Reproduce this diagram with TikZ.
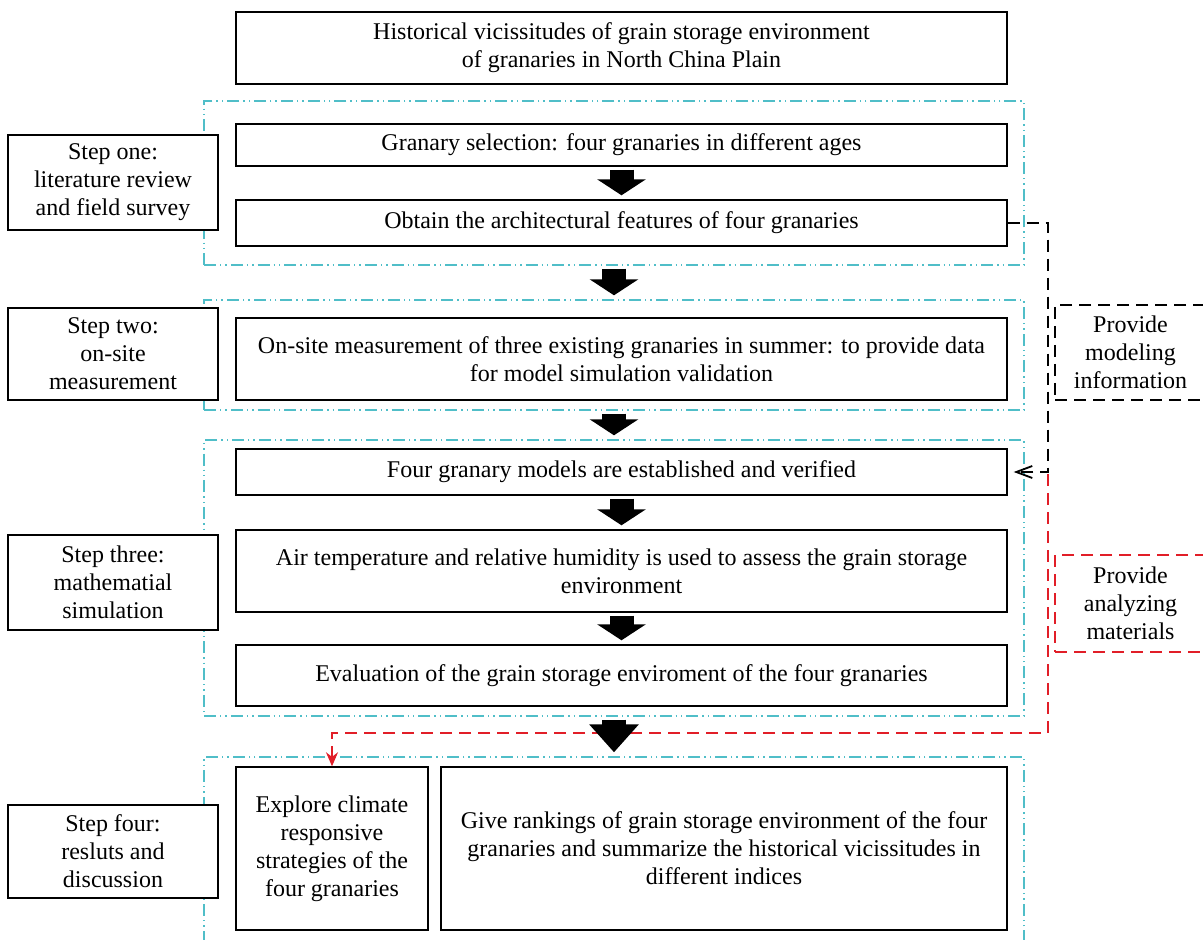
\documentclass[tikz,border=0pt]{standalone}
\usepackage{fontspec}
\setmainfont{Liberation Serif}
\usetikzlibrary{arrows.meta}

\definecolor{framecyan}{RGB}{80,190,200}
\definecolor{linkred}{RGB}{225,30,40}

\tikzset{
  box/.style={draw, line width=0.7pt, align=center, inner sep=0pt, minimum width=385.5pt},
  stepbox/.style={draw, fill=white, line width=0.7pt, align=center, inner sep=0pt, minimum width=105pt},
  stage/.style={draw=framecyan, line width=0.7pt, inner sep=0pt, minimum width=410pt,
    dash pattern=on 6pt off 2pt on 0.7pt off 2pt on 0.7pt off 2pt},
  bigarrow/.style={-{Triangle[width=24pt,length=8pt]}, line width=12pt, shorten <=1.5pt, shorten >=2pt},
  noteline/.style={line width=0.9pt, dash pattern=on 6pt off 3.5pt},
  note/.style={draw, noteline, align=center, inner sep=0pt, minimum width=75.5pt},
}

\begin{document}
\begin{tikzpicture}[x=0.5pt, y=-0.5pt, font=\fontsize{12}{14}\selectfont]
    \useasboundingbox (0,0) rectangle (1203,940);

    % stage frames
    \node[stage, minimum height=82pt] (stage1) at (614,183) {};
    \node[stage, minimum height=55pt] (stage2) at (614,355) {};
    \node[stage, minimum height=138pt] (stage3) at (614,578) {};
    \node[stage, minimum height=111.5pt] (stage4) at (614,868.5) {};

    % main boxes
    \node[box, minimum height=36pt] (title) at (621.5,48)
        {Historical vicissitudes of grain storage environment\\of granaries in North China Plain};
    \node[box, minimum height=21pt] (select) at (621.5,145)
        {Granary selection: four granaries in different ages};
    \node[box, minimum height=23pt] (obtain) at (621.5,223)
        {Obtain the architectural features of four granaries};
    \node[box, minimum height=41pt] (measure) at (621.5,359)
        {On-site measurement of three existing granaries in summer: to provide data\\for model simulation validation};
    \node[box, minimum height=23pt] (models) at (621.5,472)
        {Four granary models are established and verified};
    \node[box, minimum height=41pt] (assess) at (621.5,571)
        {Air temperature and relative humidity is used to assess the grain storage\\environment};
    \node[box, minimum height=30.5pt] (evaluate) at (621.5,675.5)
        {Evaluation of the grain storage enviroment of the four granaries};
    \node[box, minimum width=96pt, minimum height=81.5pt] (explore) at (332,848.5)
        {Explore climate\\responsive\\strategies of the\\four granaries};
    \node[box, minimum width=283pt, minimum height=81.5pt] (rank) at (724,848.5)
        {Give rankings of grain storage environment of the four\\granaries and summarize the historical vicissitudes in\\different indices};

    % step labels
    \node[stepbox, minimum height=47.5pt] (step1) at (113,182.5)
        {Step one:\\literature review\\and field survey};
    \node[stepbox, minimum height=46pt] (step2) at (113,354)
        {Step two:\\on-site\\measurement};
    \node[stepbox, minimum height=47.5pt] (step3) at (113,582.5)
        {Step three:\\mathematial\\simulation};
    \node[stepbox, minimum height=46.5pt] (step4) at (113,851.5)
        {Step four:\\resluts and\\discussion};

    % notes on the right
    \node[note, minimum height=47.5pt] (modelnote) at (1130.5,352.5)
        {Provide\\modeling\\information};
    \node[note, draw=linkred, minimum height=48.5pt] (analysenote) at (1130.5,603.5)
        {Provide\\analyzing\\materials};

    % dashed links
    \coordinate (rbus) at (1048,0);
    \coordinate (split) at (1048,474);
    \coordinate (redturn) at (1048,733);
    \draw[noteline, -{Straight Barb[length=8pt,width=6pt]}, shorten >=3pt]
        (obtain.east) -- (obtain.east -| rbus) |- (models.east);
    \draw[noteline, linkred, -{Stealth[length=7pt,width=6pt]}]
        (split) -- (redturn) -| (explore.north);

    % block arrows
    \draw[bigarrow] (select) -- (obtain);
    \draw[bigarrow] (stage1) -- (stage2);
    \draw[bigarrow] (stage2) -- (stage3);
    \draw[bigarrow] (models) -- (assess);
    \draw[bigarrow] (assess) -- (evaluate);
    \draw[bigarrow, -{Triangle[width=24pt,length=14pt]}] (stage3) -- (stage4);
\end{tikzpicture}
\end{document}
